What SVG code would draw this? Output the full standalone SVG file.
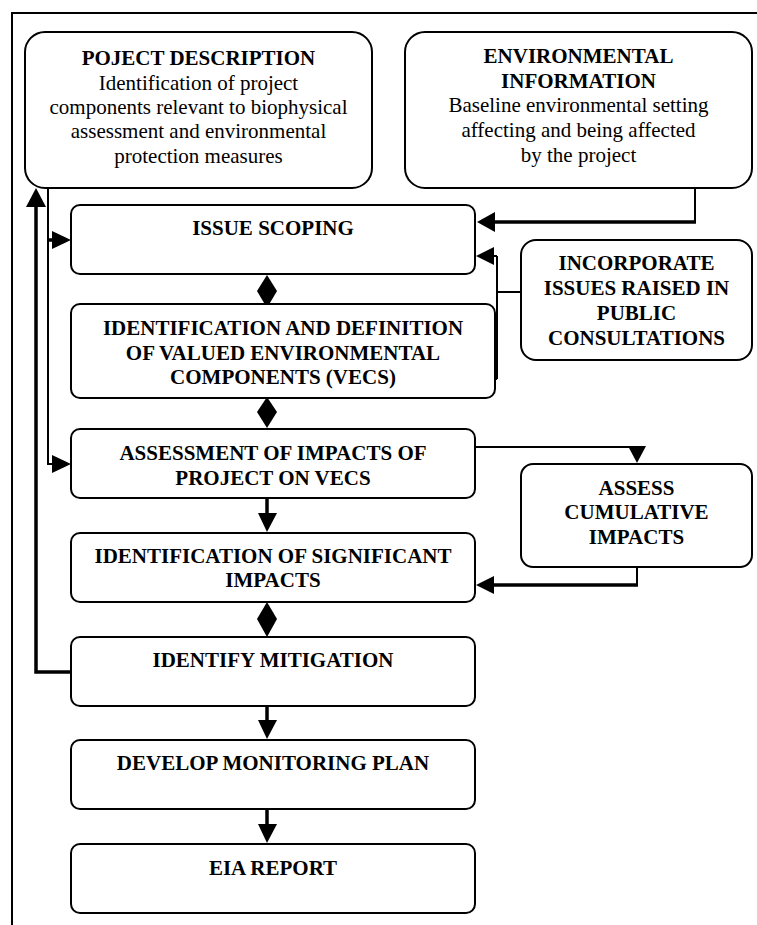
<svg xmlns="http://www.w3.org/2000/svg" width="757" height="925" viewBox="0 0 757 925">
<style>
.box{fill:#fff;stroke:#000;stroke-width:2}
.t{font-family:"Liberation Serif","Times New Roman",serif;font-size:21px;text-anchor:middle;fill:#000}
.b{font-weight:bold}
.ln{fill:none;stroke:#000;stroke-width:2}
.th{fill:none;stroke:#000;stroke-width:3.5}
.ah{fill:#000;stroke:none}
</style>
<rect width="757" height="925" fill="#fff"/>
<g id="frame">
<path class="ln" d="M12,925 V13 H757"/>
</g>
<g id="connectors">
<!-- env -> issue scoping -->
<path class="ln" d="M695,188 V222"/>
<path class="th" d="M696,222 H490"/>
<polygon class="ah" points="477,222 495,212 495,232"/>
<!-- incorporate -> issue scoping & VEC -->
<path class="ln" d="M521,292 H497"/>
<path class="ln" d="M497,256 V379"/>
<path class="ln" d="M497,256 H490 M497,379 H492"/>
<polygon class="ah" points="476,256 494,247 494,265"/>
<polygon class="ah" points="475,378 495,369 495,388"/>
<!-- diamonds -->
<polygon class="ah" points="267,275 277,291 267,308 257,291"/>
<polygon class="ah" points="267,397 277,412 267,428 257,412"/>
<polygon class="ah" points="267,602 277,619 267,637 257,619"/>
<!-- assessment -> significant -->
<path class="th" d="M267,498 V516"/>
<polygon class="ah" points="267,532 258,513 277,513"/>
<!-- mitigation -> monitoring -->
<path class="th" d="M267,706 V723"/>
<polygon class="ah" points="267,739 258,720 277,720"/>
<!-- monitoring -> EIA -->
<path class="th" d="M267,809 V827"/>
<polygon class="ah" points="267,843 258,824 277,824"/>
<!-- assessment -> cumulative -->
<path class="ln" d="M475,447 H637 V450"/>
<polygon class="ah" points="637,463 628,446 646,446"/>
<!-- cumulative -> significant -->
<path class="ln" d="M637,567 V585"/>
<path class="th" d="M638,585 H490"/>
<polygon class="ah" points="476,585 494,576 494,594"/>
<!-- project description -> issue scoping & assessment -->
<path class="ln" d="M48,188 V464 H56"/>
<path class="th" d="M48,240 H56"/>
<polygon class="ah" points="71,240 52,231 52,249"/>
<polygon class="ah" points="71,464 52,455 52,473"/>
<!-- mitigation feedback -> project description -->
<path class="th" d="M71,672 H36 V204"/>
<polygon class="ah" points="36,188 26,207 46,207"/>
</g>
<g id="project-description">
<rect class="box" x="25" y="32" width="347" height="156" rx="20"/>
<text class="t b" x="198.5" y="65">POJECT DESCRIPTION</text>
<text class="t" x="198.5" y="90">Identification of project</text>
<text class="t" x="198.5" y="114">components relevant to biophysical</text>
<text class="t" x="198.5" y="138">assessment and environmental</text>
<text class="t" x="198.5" y="163">protection measures</text>
</g>
<g id="environmental-information">
<rect class="box" x="405" y="32" width="347" height="156" rx="20"/>
<text class="t b" x="578.5" y="63">ENVIRONMENTAL</text>
<text class="t b" x="578.5" y="88">INFORMATION</text>
<text class="t" x="578.5" y="112">Baseline environmental setting</text>
<text class="t" x="578.5" y="137">affecting and being affected</text>
<text class="t" x="578.5" y="162">by the project</text>
</g>
<g id="issue-scoping">
<rect class="box" x="71" y="205" width="404" height="69" rx="9"/>
<text class="t b" x="273" y="235">ISSUE SCOPING</text>
</g>
<g id="incorporate-issues">
<rect class="box" x="521" y="240" width="231" height="120" rx="15"/>
<text class="t b" x="636.5" y="270">INCORPORATE</text>
<text class="t b" x="636.5" y="295">ISSUES RAISED IN</text>
<text class="t b" x="636.5" y="320">PUBLIC</text>
<text class="t b" x="636.5" y="345">CONSULTATIONS</text>
</g>
<g id="vecs">
<rect class="box" x="71" y="304" width="424" height="94" rx="9"/>
<text class="t b" x="283" y="335">IDENTIFICATION AND DEFINITION</text>
<text class="t b" x="283" y="360">OF VALUED ENVIRONMENTAL</text>
<text class="t b" x="283" y="384">COMPONENTS (VECS)</text>
</g>
<g id="assessment">
<rect class="box" x="71" y="429" width="404" height="69" rx="9"/>
<text class="t b" x="273" y="460">ASSESSMENT OF IMPACTS OF</text>
<text class="t b" x="273" y="485">PROJECT ON VECS</text>
</g>
<g id="cumulative">
<rect class="box" x="521" y="464" width="231" height="103" rx="12"/>
<text class="t b" x="636.5" y="495">ASSESS</text>
<text class="t b" x="636.5" y="519">CUMULATIVE</text>
<text class="t b" x="636.5" y="544">IMPACTS</text>
</g>
<g id="significant">
<rect class="box" x="71" y="533" width="404" height="69" rx="9"/>
<text class="t b" x="273" y="563">IDENTIFICATION OF SIGNIFICANT</text>
<text class="t b" x="273" y="587">IMPACTS</text>
</g>
<g id="mitigation">
<rect class="box" x="71" y="637" width="404" height="69" rx="9"/>
<text class="t b" x="273" y="667">IDENTIFY MITIGATION</text>
</g>
<g id="monitoring">
<rect class="box" x="71" y="740" width="404" height="69" rx="9"/>
<text class="t b" x="273" y="770">DEVELOP MONITORING PLAN</text>
</g>
<g id="eia-report">
<rect class="box" x="71" y="844" width="404" height="69" rx="9"/>
<text class="t b" x="273" y="875">EIA REPORT</text>
</g>
</svg>
